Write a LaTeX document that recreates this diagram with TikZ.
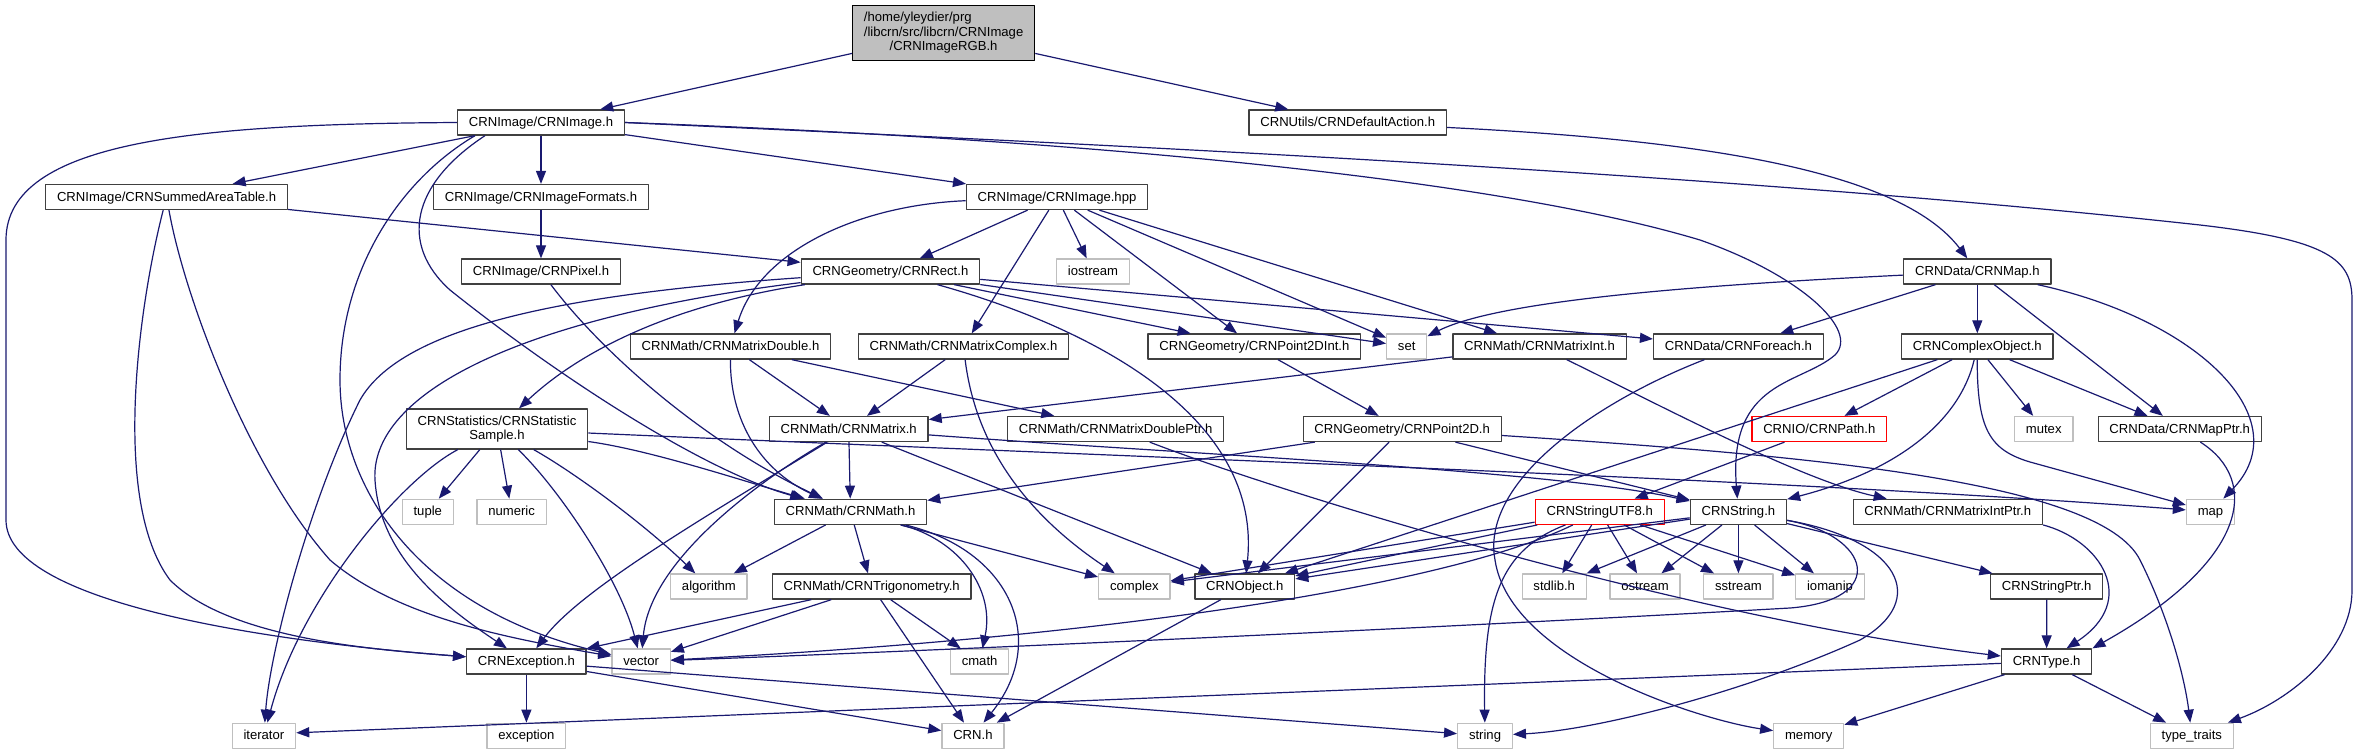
\documentclass[tikz,border=0pt]{standalone}
\usepackage{fontspec}
\setmainfont{Liberation Sans}
\usetikzlibrary{arrows.meta}
\definecolor{edgeblue}{HTML}{191970}
\definecolor{grey25}{HTML}{404040}
\definecolor{grey75}{HTML}{BFBFBF}
\begin{document}
\begin{tikzpicture}[x=1pt,y=-1pt,font=\fontsize{13.1}{14.6}\selectfont,line join=round,>={Triangle[length=13pt,width=10pt]},
		nbox/.style={line width=1.3pt,fill=white,inner xsep=11.3pt,inner ysep=0pt,minimum height=25pt,text height=9.6pt,text depth=1.6pt},
		hdr/.style={nbox,draw=grey25},
		sys/.style={nbox,draw=grey75},
		trunc/.style={nbox,draw=red},
		rootbox/.style={draw=black,fill=grey75,line width=1.3pt,inner xsep=11.3pt,inner ysep=3pt,minimum height=55pt},
		twoline/.style={draw=grey25,fill=white,line width=1.3pt,align=center,inner xsep=11.3pt,minimum height=40pt},
		dep/.style={->,draw=edgeblue,line width=1.2pt}]
			\fill[white] (0,0) rectangle (2357,755);
			\useasboundingbox (0,0) rectangle (2357,755);
			\node[rootbox] (root) at (943.6,33.2) {\begin{tabular}{@{}l@{}}/home/yleydier/prg\\/libcrn/src/libcrn/CRNImage\\\multicolumn{1}{@{}c@{}}{/CRNImageRGB.h}\end{tabular}};
			\node[hdr] (img) at (541,122.5) {CRNImage/CRNImage.h};
			\node[hdr] (defact) at (1347.7,122.5) {CRNUtils/CRNDefaultAction.h};
			\node[hdr] (sat) at (166.6,197) {CRNImage/CRNSummedAreaTable.h};
			\node[hdr] (fmt) at (541,197) {CRNImage/CRNImageFormats.h};
			\node[hdr] (hpp) at (1057,197) {CRNImage/CRNImage.hpp};
			\node[hdr] (pix) at (541,271.5) {CRNImage/CRNPixel.h};
			\node[hdr] (rect) at (890.4,271.5) {CRNGeometry/CRNRect.h};
			\node[sys] (iostr) at (1093,271.5) {iostream};
			\node[hdr] (cmap) at (1977.3,271.5) {CRNData/CRNMap.h};
			\node[hdr] (mdbl) at (730.5,346.5) {CRNMath/CRNMatrixDouble.h};
			\node[hdr] (mcpx) at (963.5,346.5) {CRNMath/CRNMatrixComplex.h};
			\node[hdr] (p2di) at (1254.4,346.5) {CRNGeometry/CRNPoint2DInt.h};
			\node[sys] (set) at (1406.7,346.5) {set};
			\node[hdr] (mint) at (1539.5,346.5) {CRNMath/CRNMatrixInt.h};
			\node[hdr] (fore) at (1738.4,346.5) {CRNData/CRNForeach.h};
			\node[hdr] (cobj) at (1977.3,346.5) {CRNComplexObject.h};
			\node[twoline] (stat) at (497,429) {CRNStatistics/CRNStatistic\\Sample.h};
			\node[hdr] (mat) at (848.7,429) {CRNMath/CRNMatrix.h};
			\node[hdr] (mdblp) at (1115.6,429) {CRNMath/CRNMatrixDoublePtr.h};
			\node[hdr] (p2d) at (1402.2,429) {CRNGeometry/CRNPoint2D.h};
			\node[trunc] (path) at (1819.3,429) {CRNIO/CRNPath.h};
			\node[sys] (mutex) at (2043.7,429) {mutex};
			\node[hdr] (mapp) at (2179.7,429) {CRNData/CRNMapPtr.h};
			\node[sys] (tuple) at (427.8,511.8) {tuple};
			\node[sys] (numeric) at (511.6,511.8) {numeric};
			\node[hdr] (crnmath) at (850.5,511.8) {CRNMath/CRNMath.h};
			\node[trunc] (utf8) at (1599.7,511.8) {CRNStringUTF8.h};
			\node[hdr] (str) at (1738.4,511.8) {CRNString.h};
			\node[hdr] (mintp) at (1947.8,511.8) {CRNMath/CRNMatrixIntPtr.h};
			\node[sys] (map) at (2210.5,511.8) {map};
			\node[sys] (algo) at (708.9,586.5) {algorithm};
			\node[hdr] (trig) at (871.7,586.5) {CRNMath/CRNTrigonometry.h};
			\node[sys] (complex) at (1134.4,586.5) {complex};
			\node[hdr] (obj) at (1244.8,586.5) {CRNObject.h};
			\node[sys] (stdlib) at (1554.2,586.5) {stdlib.h};
			\node[sys] (ostr) at (1645,586.5) {ostream};
			\node[sys] (sstr) at (1738.4,586.5) {sstream};
			\node[sys] (ioman) at (1830,586.5) {iomanip};
			\node[hdr] (strp) at (2046.7,586.5) {CRNStringPtr.h};
			\node[hdr] (exc) at (526.4,661.5) {CRNException.h};
			\node[sys] (vector) at (641.1,661.5) {vector};
			\node[sys] (cmathh) at (979.6,661.5) {cmath};
			\node[hdr] (type) at (2046.6,661.5) {CRNType.h};
			\node[sys] (iter) at (263.9,735.8) {iterator};
			\node[sys] (exception) at (526.4,735.8) {exception};
			\node[sys] (crn) at (972.9,735.8) {CRN.h};
			\node[sys] (string) at (1485,735.8) {string};
			\node[sys] (memory) at (1808.7,735.8) {memory};
			\node[sys] (ttraits) at (2191.8,735.8) {type\_traits};
			\draw[dep] (root) -- (img);
			\draw[dep] (root) -- (defact);
			\draw[dep] (img) -- (sat);
			\draw[dep] (img) -- (fmt);
			\draw[dep] (img) -- (hpp);
			\draw[dep] (img.west) .. controls (200,124) and (6,140) .. (6,240) -- (6,520) .. controls (6,600) and (250,640) .. (exc);
			\draw[dep] ([xshift=-66pt]img.south) .. controls (400,180) and (340,270) .. (340,380) .. controls (340,490) and (420,610) .. (vector);
			\draw[dep] ([xshift=-56pt]img.south) .. controls (410,185) and (400,245) .. (450,290) .. controls (550,370) and (700,470) .. (crnmath);
			\draw[dep] (img.east) .. controls (1100,140) and (1500,180) .. (1700,240) .. controls (1800,275) and (1860,330) .. (1835,355) .. controls (1800,385) and (1728,380) .. (str);
			\draw[dep] (img.east) .. controls (1000,140) and (1700,170) .. (2200,225) .. controls (2330,240) and (2352,260) .. (2352,300) -- (2352,590) .. controls (2352,650) and (2290,700) .. (ttraits);
			\draw[dep] (defact) .. controls (1700,140) and (1900,170) .. (cmap);
			\draw[dep] (fmt) -- (pix);
			\draw[dep] (sat) -- (rect);
			\draw[dep] (sat) .. controls (140,300) and (110,500) .. (170,580) .. controls (230,640) and (380,650) .. (exc);
			\draw[dep] (sat) .. controls (185,300) and (250,470) .. (330,560) .. controls (400,620) and (520,640) .. (vector);
			\draw[dep] (hpp) .. controls (860,205) and (760,250) .. (mdbl);
			\draw[dep] (hpp) -- (rect);
			\draw[dep] (hpp) -- (iostr);
			\draw[dep] (hpp) -- (mcpx);
			\draw[dep] (hpp) -- (p2di);
			\draw[dep] (hpp) -- (set);
			\draw[dep] (hpp) -- (mint);
			\draw[dep] (rect) -- (p2di);
			\draw[dep] (rect) -- (set);
			\draw[dep] (rect) -- (fore);
			\draw[dep] (rect) .. controls (1100,330) and (1262,420) .. (obj);
			\draw[dep] (rect) .. controls (640,310) and (560,370) .. (stat);
			\draw[dep] (rect) .. controls (500,320) and (370,400) .. (375,480) .. controls (380,560) and (450,610) .. (exc);
			\draw[dep] (rect) .. controls (550,295) and (400,330) .. (360,400) .. controls (310,500) and (270,650) .. (iter);
			\draw[dep] (pix) .. controls (600,350) and (700,440) .. (crnmath);
			\draw[dep] (cmap) .. controls (1700,285) and (1500,300) .. (set);
			\draw[dep] (cmap) -- (fore);
			\draw[dep] (cmap) -- (cobj);
			\draw[dep] (cmap) -- (mapp);
			\draw[dep] (cmap) .. controls (2200,320) and (2300,420) .. (map);
			\draw[dep] (cobj) -- (path);
			\draw[dep] (cobj) -- (mutex);
			\draw[dep] (cobj) -- (mapp);
			\draw[dep] (cobj) .. controls (1977,430) and (1990,450) .. (2030,462) -- (map);
			\draw[dep] (cobj) .. controls (1960,420) and (1900,470) .. (str);
			\draw[dep] (cobj) -- (obj);
			\draw[dep] (fore) .. controls (1600,400) and (1480,480) .. (1495,560) .. controls (1510,660) and (1700,720) .. (memory);
			\draw[dep] (mint) -- (mat);
			\draw[dep] (mint) .. controls (1650,400) and (1800,480) .. (mintp);
			\draw[dep] (mdbl) -- (mat);
			\draw[dep] (mdbl) .. controls (730,420) and (760,470) .. (crnmath);
			\draw[dep] (mdbl) -- (mdblp);
			\draw[dep] (mcpx) -- (mat);
			\draw[dep] (mcpx) .. controls (975,440) and (1020,510) .. (complex);
			\draw[dep] (p2di) -- (p2d);
			\draw[dep] (mdblp) .. controls (1300,500) and (1700,620) .. (type);
			\draw[dep] (stat) -- (tuple);
			\draw[dep] (stat) -- (numeric);
			\draw[dep] (stat) .. controls (400,480) and (300,600) .. (iter);
			\draw[dep] (stat) .. controls (560,490) and (620,580) .. (vector);
			\draw[dep] (stat) .. controls (570,470) and (640,520) .. (algo);
			\draw[dep] (stat) .. controls (650,450) and (740,480) .. (crnmath);
			\draw[dep] (stat) .. controls (1200,460) and (1800,480) .. (map);
			\draw[dep] (mat) -- (crnmath);
			\draw[dep] (mat) .. controls (700,520) and (580,590) .. (exc);
			\draw[dep] (mat) .. controls (760,480) and (650,560) .. (vector);
			\draw[dep] (mat) -- (obj);
			\draw[dep] (mat) .. controls (1200,455) and (1550,470) .. (str);
			\draw[dep] (p2d) -- (crnmath);
			\draw[dep] (p2d) -- (obj);
			\draw[dep] (p2d) -- (str);
			\draw[dep] (p2d) .. controls (1800,455) and (2100,480) .. (2140,560) .. controls (2170,620) and (2185,680) .. (ttraits);
			\draw[dep] (path) -- (utf8);
			\draw[dep] (crnmath) -- (algo);
			\draw[dep] (crnmath) -- (trig);
			\draw[dep] (crnmath) -- (complex);
			\draw[dep] (crnmath) .. controls (960,540) and (995,590) .. (cmathh);
			\draw[dep] (crnmath) .. controls (1010,550) and (1050,640) .. (crn);
			\draw[dep] (trig) -- (exc);
			\draw[dep] (trig) -- (vector);
			\draw[dep] (trig) -- (crn);
			\draw[dep] (trig) -- (cmathh);
			\draw[dep] (utf8) -- (obj);
			\draw[dep] (utf8) -- (complex);
			\draw[dep] (utf8) .. controls (1460,580) and (1150,635) .. (vector);
			\draw[dep] (utf8) .. controls (1500,550) and (1483,600) .. (string);
			\draw[dep] (utf8) -- (stdlib);
			\draw[dep] (utf8) -- (ostr);
			\draw[dep] (utf8) -- (sstr);
			\draw[dep] (utf8) -- (ioman);
			\draw[dep] (str) -- (obj);
			\draw[dep] (str) -- (complex);
			\draw[dep] (str) -- (stdlib);
			\draw[dep] (str) -- (ostr);
			\draw[dep] (str) -- (sstr);
			\draw[dep] (str) -- (ioman);
			\draw[dep] (str) -- (strp);
			\draw[dep] (str) .. controls (1870,535) and (1890,600) .. (1790,608) .. controls (1400,630) and (900,652) .. (vector);
			\draw[dep] (str) .. controls (1900,540) and (1930,600) .. (1860,640) .. controls (1750,690) and (1600,730) .. (string);
			\draw[dep] (obj) -- (crn);
			\draw[dep] (exc) -- (exception);
			\draw[dep] (exc) -- (crn);
			\draw[dep] (exc) -- (string);
			\draw[dep] (type) -- ([yshift=3pt]iter.east);
			\draw[dep] (type) -- (memory);
			\draw[dep] (type) -- (ttraits);
			\draw[dep] (strp) -- (type);
			\draw[dep] (mintp.south east) .. controls (2100,540) and (2140,600) .. (type);
			\draw[dep] (mapp) .. controls (2260,480) and (2250,560) .. (type.north east);
		\end{tikzpicture}
\end{document}
